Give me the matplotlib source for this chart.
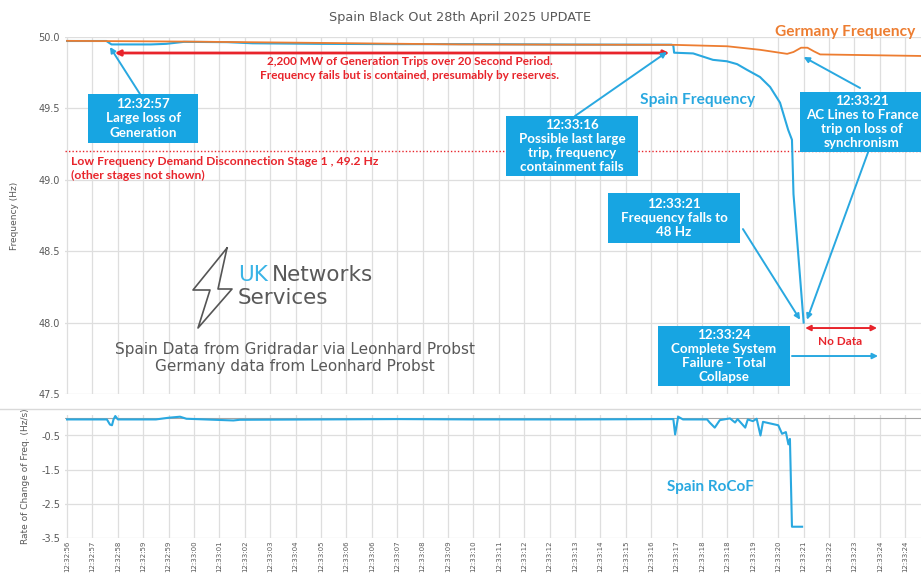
import matplotlib
matplotlib.use("Agg")
import matplotlib.pyplot as plt
from matplotlib.patches import Rectangle
from matplotlib.lines import Line2D

# x tick labels (one per gridline)
time_labels = ["12:32:56", "12:32:57", "12:32:58", "12:32:59", "12:32:59", "12:33:00",
               "12:33:01", "12:33:02", "12:33:03", "12:33:04", "12:33:05", "12:33:06",
               "12:33:06", "12:33:07", "12:33:08", "12:33:09", "12:33:10", "12:33:11",
               "12:33:12", "12:33:12", "12:33:13", "12:33:14", "12:33:15", "12:33:16",
               "12:33:17", "12:33:18", "12:33:18", "12:33:19", "12:33:20", "12:33:21",
               "12:33:22", "12:33:23", "12:33:24", "12:33:24"]

# Spain frequency (position along time axis, Hz)
spain_t = [0, 1.55, 1.75, 3.3, 3.9, 4.6, 6.3, 7.3, 10, 13, 16, 20, 23.8, 23.87, 23.9,
           24.65, 25.43, 25.98, 26.38, 26.77, 27.28, 27.68, 28.07, 28.39, 28.54, 28.6, 29.0]
spain_f = [49.972, 49.972, 49.948, 49.948, 49.952, 49.966, 49.964, 49.956, 49.952, 49.95,
           49.95, 49.947, 49.946, 49.94, 49.89, 49.885, 49.84, 49.83, 49.81, 49.77, 49.72,
           49.65, 49.54, 49.35, 49.28, 48.9, 48.0]

# Germany frequency
germany_t = [0, 4.6, 9.2, 15.5, 23.9, 26.0, 27.3, 28.35, 28.6, 28.9, 29.15, 29.4, 29.65, 33.7]
germany_f = [49.973, 49.968, 49.96, 49.948, 49.945, 49.935, 49.91, 49.882, 49.895, 49.925,
             49.925, 49.9, 49.878, 49.867]

# Spain RoCoF (Hz/s)
rocof_t = [0, 1.57, 1.69, 1.77, 1.83, 1.9, 2.0, 3.5, 4.0, 4.45, 4.7, 6.55, 6.8, 10, 13, 16,
           20, 23.87, 23.94, 24.06, 24.25, 25.2, 25.3, 25.5, 25.7, 26.1, 26.3, 26.4, 26.7,
           26.8, 27.0, 27.15, 27.3, 27.4, 27.7, 28.0, 28.15, 28.3, 28.4, 28.46, 28.54, 28.94]
rocof_v = [-0.03, -0.03, -0.18, -0.2, -0.03, 0.07, -0.03, -0.03, 0.02, 0.05, -0.01, -0.06,
           -0.04, -0.03, -0.02, -0.03, -0.03, -0.02, -0.47, 0.05, -0.03, -0.03, -0.12, -0.27,
           -0.05, 0.0, -0.12, -0.02, -0.27, -0.03, -0.08, -0.01, -0.5, -0.1, -0.15, -0.2,
           -0.45, -0.4, -0.76, -0.6, -3.17, -3.17]

freq_ticks = [47.5, 48.0, 48.5, 49.0, 49.5, 50.0]
rocof_ticks = [-3.5, -2.5, -1.5, -0.5]
lfdd_level = 49.2

BLUE = "#29a8e0"
BOX = "#17a5e2"
ORANGE = "#ed7d31"
RED = "#e8242b"
GREY = "#595959"
GRID = "#dedede"
FONT = "Lato"

W, H = 921, 574
fig = plt.figure(figsize=(W / 100, H / 100), dpi=100)
fig.patch.set_facecolor("white")

xmin, xmax = -0.08, 33.62
ax = fig.add_axes([65 / W, 1 - 394 / H, 856 / W, 357 / H])
ax2 = fig.add_axes([65 / W, 1 - 538 / H, 856 / W, 123 / H])

for a in (ax, ax2):
    for s in a.spines.values():
        s.set_visible(False)
    a.set_xlim(xmin, xmax)
    a.set_xticks(range(len(time_labels)))
    a.grid(True, color=GRID, lw=0.9)
    a.set_axisbelow(True)
    a.tick_params(length=0, colors=GREY, labelsize=7)

# top panel
ax.set_ylim(47.5, 50.0)
ax.set_yticks(freq_ticks)
ax.set_yticklabels([f"{v:.1f}" for v in freq_ticks])
ax.set_xticklabels([])
ax.set_ylabel("Frequency (Hz)", fontsize=6.5, color=GREY, labelpad=14)

ax.plot(spain_t, spain_f, color=BLUE, lw=1.5, clip_on=False, zorder=3)
ax.plot(germany_t, germany_f, color=ORANGE, lw=1.3, clip_on=False, zorder=3)
ax.axhline(lfdd_level, color=RED, lw=1.0, ls=(0, (1, 1.5)), zorder=2)

# red double arrow + text
ax.annotate("", xy=(1.77, 49.888), xytext=(23.82, 49.888),
            arrowprops=dict(arrowstyle="<|-|>", color=RED, lw=2, mutation_scale=8))
ax.text(13.5, 49.825, "2,200 MW of Generation Trips over 20 Second Period.", color=RED,
        fontsize=8.5, fontweight="bold", family=FONT, ha="center", va="center")
ax.text(13.5, 49.727, "Frequency fails but is contained, presumably by reserves.", color=RED,
        fontsize=8.5, fontweight="bold", family=FONT, ha="center", va="center")
ax.text(0.16, 49.13, "Low Frequency Demand Disconnection Stage 1 , 49.2 Hz", color=RED,
        fontsize=8.7, fontweight="bold", family=FONT, ha="left", va="center")
ax.text(0.16, 49.03, "(other stages not shown)", color=RED,
        fontsize=8.7, fontweight="bold", family=FONT, ha="left", va="center")

ax.text(24.84, 49.56, "Spain Frequency", color=BLUE, fontsize=11.2, fontweight="bold",
        family=FONT, ha="center", va="center")
ax.text(30.63, 50.035, "Germany Frequency", color=ORANGE, fontsize=11.2, fontweight="bold",
        family=FONT, ha="center", va="center", clip_on=False)


def callout(x0, x1, y0, y1, text, tx=None):
    ax.add_patch(Rectangle((x0, y0), x1 - x0, y1 - y0, facecolor=BOX, edgecolor="none",
                           zorder=5, clip_on=False))
    if tx is None:
        tx = (x0 + x1) / 2
    ax.text(tx, (y0 + y1) / 2, text, color="white", fontsize=9.6, fontweight="bold",
            family=FONT, ha="center", va="center", linespacing=1.22, zorder=6)


def arrow(tail, head, color=BLUE, style="-|>"):
    ax.annotate("", xy=head, xytext=tail, annotation_clip=False,
                arrowprops=dict(arrowstyle=style, color=color, lw=1.4, mutation_scale=8,
                                shrinkA=0, shrinkB=0), zorder=4)


callout(0.83, 5.16, 49.258, 49.601, "12:32:57\nLarge loss of\nGeneration")
arrow((2.87, 49.601), (1.69, 49.93))

callout(17.28, 22.48, 49.027, 49.447,
        "12:33:16\nPossible last large\ntrip, frequency\ncontainment fails")
arrow((20.0, 49.447), (23.62, 49.895))

callout(28.86, 33.9, 49.195, 49.615,
        "12:33:21\nAC Lines to France\ntrip on loss of\nsynchronism", tx=31.3)
arrow((31.22, 49.643), (29.0, 49.86))
arrow((31.54, 49.195), (29.13, 48.02))

callout(21.3, 26.5, 48.557, 48.908, "12:33:21\nFrequency falls to\n48 Hz")
arrow((26.61, 48.655), (28.86, 48.02))

callout(23.27, 28.46, 47.556, 47.976, "12:33:24\nComplete System\nFailure - Total\nCollapse")
arrow((28.54, 47.766), (31.93, 47.766))

arrow((29.06, 47.962), (31.89, 47.962), color=RED, style="<|-|>")
ax.text(30.43, 47.87, "No Data", color=RED, fontsize=8.5, fontweight="bold", family=FONT,
        ha="center", va="center")

# logo + sources
ax.text(6.73, 48.33, "UK", color="#3ab4e6", fontsize=15.5, ha="left", va="center")
ax.text(8.05, 48.33, "Networks", color=GREY, fontsize=15.5, ha="left", va="center")
ax.text(6.73, 48.175, "Services", color=GREY, fontsize=15.5, ha="left", va="center")
bolt_x = [227, 193, 210, 198, 232, 218, 227]
bolt_y = [248, 290, 290, 328, 289, 289, 248]
fig.add_artist(Line2D([x / W for x in bolt_x], [1 - y / H for y in bolt_y],
                      color="#555555", lw=1.2))
ax.text(8.98, 47.81, "Spain Data from Gridradar via Leonhard Probst", color=GREY,
        fontsize=11, ha="center", va="center")
ax.text(8.98, 47.69, "Germany data from Leonhard Probst", color=GREY,
        fontsize=11, ha="center", va="center")

# bottom panel
ax2.set_ylim(-3.5, 0.1)
ax2.set_yticks(rocof_ticks)
ax2.set_yticklabels([f"{v:.1f}" for v in rocof_ticks])
ax2.set_xticklabels(time_labels, rotation=90, fontsize=5)
ax2.tick_params(axis="x", pad=2)
ax2.set_ylabel("Rate of Change of Freq. (Hz/s)", fontsize=6.5, color=GREY, labelpad=8)
ax2.axhline(0, color="#a6a6a6", lw=0.8, zorder=1)
ax2.plot(rocof_t, rocof_v, color=BLUE, lw=1.5, zorder=3)
ax2.text(25.35, -2.0, "Spain RoCoF", color=BLUE, fontsize=11, fontweight="bold",
         family=FONT, ha="center", va="center")

fig.add_artist(Line2D([0, 1], [1 - 409 / H] * 2, color="#d9d9d9", lw=1))
fig.text(0.5, 1 - 17 / H, "Spain Black Out 28th April 2025 UPDATE", ha="center",
         va="center", fontsize=9.3, color=GREY)

fig.savefig("out.png", dpi=100)
